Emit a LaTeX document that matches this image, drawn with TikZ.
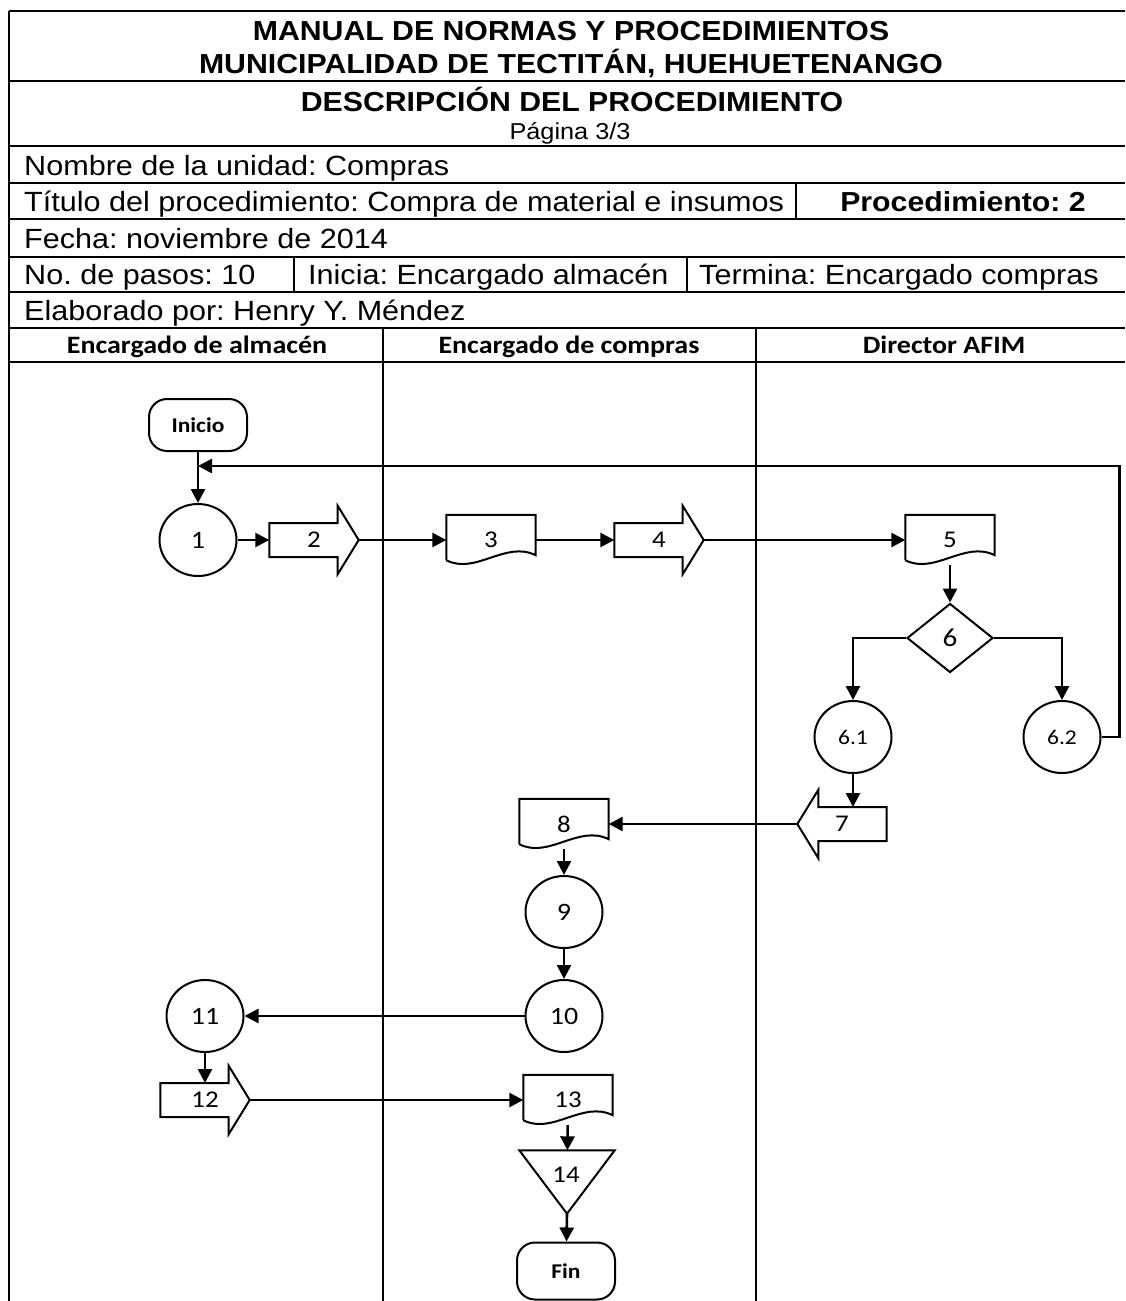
\documentclass[tikz,border=0pt]{standalone}
\usepackage{fontspec}
\setmainfont{Liberation Sans}[FakeStretch=1.1]
\newfontfamily\calfont{Carlito}[FakeStretch=1.12]
\usetikzlibrary{arrows.meta,positioning,shapes.geometric,calc}
\frenchspacing
\tikzset{
  linea/.style={line width=2pt,black},
  flujo/.style={-{Triangle[length=14pt,width=14pt]},line width=2.6pt},
  contorno/.style={line width=2pt},
  paso/.style={ellipse,draw,contorno,minimum width=77pt,minimum height=72pt,inner sep=0pt,font=\calfont\fontsize{25}{27}\selectfont},
  pasochico/.style={paso,font=\calfont\fontsize{21}{23}\selectfont},
  terminal/.style={rectangle,rounded corners=18pt,draw,contorno,minimum width=98pt,minimum height=52pt,inner sep=0pt,font=\calfont\bfseries\fontsize{21}{23}\selectfont},
  docbox/.style={rectangle,minimum width=89pt,minimum height=50pt,inner sep=0pt,font=\calfont\fontsize{24}{26}\selectfont},
  flecha/.style={rectangle,minimum width=89pt,minimum height=68pt,inner sep=0pt,font=\calfont\fontsize{24}{26}\selectfont},
  decision/.style={diamond,draw,contorno,minimum width=86pt,minimum height=69pt,inner sep=0pt,font=\calfont\fontsize{26}{28}\selectfont},
  archivo/.style={rectangle,minimum width=95pt,minimum height=63pt,inner sep=0pt},
  fila/.style={anchor=base west,inner sep=0pt,font=\fontsize{27.8}{30}\selectfont},
  titulo/.style={anchor=base,inner sep=0pt,font=\bfseries\fontsize{27.5}{30}\selectfont},
  carril/.style={anchor=base,inner sep=0pt,font=\calfont\bfseries\fontsize{25}{27}\selectfont}
}
% document outline around a docbox node
\newcommand{\documento}[1]{%
  \draw[contorno] ([yshift=5pt]#1.south west) -- (#1.north west) -- (#1.north east) -- ([yshift=10pt]#1.south east)
    .. controls ($(#1.south west)!0.66!(#1.south east)+(0pt,25pt)$) and ($(#1.south west)!0.33!(#1.south east)+(0pt,-10pt)$) .. ([yshift=5pt]#1.south west);}
% block arrows around a flecha node
\newcommand{\flechader}[1]{%
  \draw[contorno] ([yshift=17pt]#1.west) -- ([xshift=-21pt,yshift=17pt]#1.east) -- ([xshift=-21pt]#1.north east)
    -- (#1.east) -- ([xshift=-21pt]#1.south east) -- ([xshift=-21pt,yshift=-17pt]#1.east) -- ([yshift=-17pt]#1.west) -- cycle;}
\newcommand{\flechaizq}[1]{%
  \draw[contorno] ([yshift=17pt]#1.east) -- ([xshift=21pt,yshift=17pt]#1.west) -- ([xshift=21pt]#1.north west)
    -- (#1.west) -- ([xshift=21pt]#1.south west) -- ([xshift=21pt,yshift=-17pt]#1.west) -- ([yshift=-17pt]#1.east) -- cycle;}

\begin{document}
\begin{tikzpicture}[x=1pt,y=-1pt]
  \useasboundingbox (0,0) rectangle (1125,1301);

  % table frame
  \draw[linea] (9,11) -- (1125,11);
  \draw[linea] (9,11) -- (9,1301);
  \foreach \y in {81,146,183,219,257,292,328,362}
    \draw[linea] (9,\y) -- (1125,\y);
  \draw[linea] (796,183) -- (796,219);
  \draw[linea] (294,257) -- (294,292);
  \draw[linea] (687,257) -- (687,292);
  \draw[linea] (383,328) -- (383,1301);
  \draw[linea] (756,328) -- (756,1301);

  % header texts
  \node[titulo] (manual) at (571,40) {MANUAL DE NORMAS Y PROCEDIMIENTOS};
  \node[titulo] (muni) at (571,73) {MUNICIPALIDAD DE TECTITÁN, HUEHUETENANGO};
  \node[titulo] (descr) at (572,111) {DESCRIPCIÓN DEL PROCEDIMIENTO};
  \node[anchor=base,inner sep=0pt,font=\fontsize{23}{25}\selectfont] (pag) at (570,139) {Página 3/3};
  \node[fila] (unidad) at (24,175) {Nombre de la unidad: Compras};
  \node[fila] (tituloproc) at (24,211) {Título del procedimiento: Compra de material e insumos};
  \node[titulo] (proc) at (963,211) {Procedimiento: 2};
  \node[fila] (fecha) at (24,248) {Fecha: noviembre de 2014};
  \node[fila] (pasos) at (24,284) {No. de pasos: 10};
  \node[fila] (inicia) at (308,284) {Inicia: Encargado almacén};
  \node[fila] (termina) at (699,284) {Termina: Encargado compras};
  \node[fila] (elab) at (24,320) {Elaborado por: Henry Y. Méndez};
  \node[carril] (almacen) at (197,353) {Encargado de almacén};
  \node[carril] (compras) at (569,353) {Encargado de compras};
  \node[carril] (afim) at (944,353) {Director AFIM};

  % flow
  \node[terminal] (inicio) at (198,425) {Inicio};
  \node[paso] (c1) at (198,540) {1};
  \node[flecha] (a2) at (314,540) {2};
  \node[docbox] (d3) at (491,540) {3};
  \node[flecha] (a4) at (659,540) {4};
  \node[docbox] (d5) at (950,540) {5};
  \node[decision] (d6) at (950,638) {6};
  \node[pasochico] (c61) at (853,737) {6.1};
  \node[pasochico] (c62) at (1062,737) {6.2};
  \node[flecha] (a7) at (842,824) {7};
  \node[docbox] (d8) at (564,824) {8};
  \node[paso] (c9) at (564,912) {9};
  \node[paso] (c10) at (564,1016) {10};
  \node[paso] (c11) at (205,1016) {11};
  \node[flecha] (a12) at (205,1100) {12};
  \node[docbox] (d13) at (568,1100) {13};
  \node[archivo] (t14) at (567,1182) {};
  \node[font=\calfont\fontsize{24}{26}\selectfont] (n14) at (566,1175) {14};
  \node[terminal,minimum height=57pt] (fin) at (566,1271) {Fin};
  \coordinate (fb) at (198,466);

  \documento{d3}
  \documento{d5}
  \documento{d8}
  \documento{d13}
  \flechader{a2}
  \flechader{a4}
  \flechaizq{a7}
  \flechader{a12}
  \draw[contorno] (t14.north west) -- (t14.north east) -- (t14.south) -- cycle;

  \draw[flujo] (inicio) -- (c1);
  \draw[flujo] (c1) -- (a2);
  \draw[flujo] (a2) -- (d3);
  \draw[flujo] (d3) -- (a4);
  \draw[flujo] (a4) -- (d5);
  \draw[flujo] (d5) -- (d6);
  \draw[flujo] (d6.west) -| (c61);
  \draw[flujo] (d6.east) -| (c62);
  \draw[flujo] (c62.east) -- ++(18,0) |- (fb);
  \draw[flujo] (c61) -- ([yshift=17pt]c61 |- a7.center);
  \draw[flujo] (a7) -- (d8);
  \draw[flujo] (d8) -- (c9);
  \draw[flujo] (c9) -- (c10);
  \draw[flujo] (c10) -- (c11);
  \draw[flujo] (c11) -- ([yshift=17pt]c11 |- a12.center);
  \draw[flujo] (a12) -- (d13);
  \draw[flujo] (d13) -- (t14);
  \draw[flujo] (t14.south) -- (fin);
\end{tikzpicture}
\end{document}
